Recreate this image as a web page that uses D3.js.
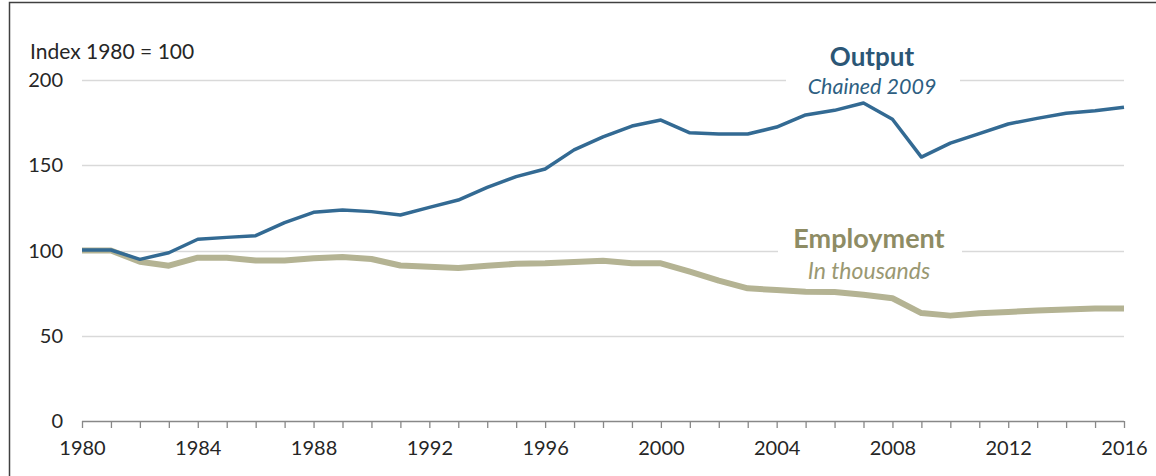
<!DOCTYPE html>
<html><head><meta charset="utf-8">
<script src="https://cdn.jsdelivr.net/npm/d3@7"></script>
<style>
html,body{margin:0;padding:0;background:#fff;}
svg{display:block;font-family:Lato, "Open Sans", sans-serif;}
</style></head>
<body><svg id="c" width="1156" height="476"></svg>
<script>
const years = d3.range(1980, 2017);
const output = [100.3,100.3,94.8,98.7,106.6,107.7,108.7,116.3,122.4,123.8,122.8,120.8,125.3,129.6,137,143.3,147.8,159,166.6,173,176.5,169,168.4,168.3,172.4,179.5,182.2,186.5,177,154.8,163,168.6,174.2,177.5,180.5,182,184];
const employment = [100,100,93.4,91.1,95.8,95.8,94.2,94.2,95.4,96.2,95,91.2,90.5,89.7,91,92.2,92.5,93.2,94,92.5,92.5,87.6,82.3,77.8,76.8,75.8,75.6,74,72,63.3,61.8,63.2,64,64.8,65.4,66,66];
const yTicks = [0,50,100,150,200];
const xTickYears = [1980,1984,1988,1992,1996,2000,2004,2008,2012,2016];

const svg = d3.select("#c");
// outer frame
svg.append("rect").attr("x",9.5).attr("y",2.5).attr("width",1200).attr("height",500)
  .attr("fill","none").attr("stroke","#404040").attr("stroke-width",1.5);

const x = d3.scaleLinear().domain([1980,2016]).range([82,1124]);
const y = d3.scaleLinear().domain([0,200]).range([421,80]);

// gridlines
svg.append("g").selectAll("line").data(yTicks.filter(d=>d>0)).join("line")
  .attr("x1",82).attr("x2",1124).attr("y1",d=>Math.round(y(d))+0.5).attr("y2",d=>Math.round(y(d))+0.5)
  .attr("stroke","#d9d9d9").attr("stroke-width",1.3);

// y labels
svg.append("g").selectAll("text").data(yTicks).join("text")
  .attr("x",63).attr("y",d=>y(d)+7).attr("text-anchor","end")
  .attr("font-size",20).attr("fill","#262626").text(d=>d);

// x axis
const xAxis = d3.axisBottom(x).tickValues(years).tickSize(7).tickFormat(d=> xTickYears.includes(d)? d : "");
const gx = svg.append("g").attr("transform","translate(0,421)").call(xAxis);
gx.select(".domain").attr("stroke","#888").attr("stroke-width",1.3).attr("d","M82,0.5H1124");
gx.selectAll(".tick line").attr("stroke","#888").attr("stroke-width",1.3);
gx.selectAll(".tick text").attr("font-size",20).attr("fill","#262626").attr("font-family","Lato, sans-serif").attr("y",0).attr("dy",34);

svg.append("text").attr("x",30).attr("y",59).attr("font-size",21).attr("fill","#262626").text("Index 1980 = 100");

const line = d3.line().x((d,i)=>x(years[i])).y(d=>y(d));
svg.append("path").datum(employment).attr("d",line).attr("fill","none")
  .attr("stroke","#b4b393").attr("stroke-width",6).attr("stroke-linejoin","round");
svg.append("path").datum(output).attr("d",line).attr("fill","none")
  .attr("stroke","#336a93").attr("stroke-width",3.5).attr("stroke-linejoin","round");

// labels with white backing
svg.append("rect").attr("x",786).attr("y",72).attr("width",174).attr("height",26).attr("fill","#fff");
svg.append("text").attr("x",872).attr("y",66).attr("text-anchor","middle").attr("font-size",26).attr("font-weight","bold").attr("fill","#2b5676").text("Output");
svg.append("text").attr("x",872).attr("y",94).attr("text-anchor","middle").attr("font-size",21.5).attr("font-style","italic").attr("fill","#2e5f82").text("Chained 2009");

svg.append("rect").attr("x",778).attr("y",240).attr("width",184).attr("height",14).attr("fill","#fff");
svg.append("text").attr("x",869).attr("y",248).attr("text-anchor","middle").attr("font-size",27).attr("font-weight","bold").attr("fill","#8e8c64").text("Employment");
svg.append("text").attr("x",869).attr("y",279).attr("text-anchor","middle").attr("font-size",23).attr("font-style","italic").attr("fill","#9a9872").text("In thousands");
</script></body></html>
